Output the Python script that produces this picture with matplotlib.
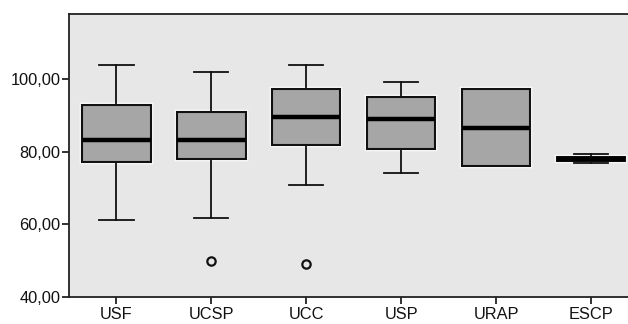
import matplotlib
matplotlib.use("Agg")
import matplotlib.pyplot as plt
import matplotlib.patheffects as pe
from matplotlib.ticker import FuncFormatter

categories = ["USF", "UCSP", "UCC", "USP", "URAP", "ESCP"]
whisker_low = [61.1, 61.8, 71.0, 74.1, 76.1, 77.0]
q1 = [77.2, 77.9, 82.0, 80.8, 76.1, 77.6]
median = [83.2, 83.2, 89.5, 89.0, 86.7, 78.1]
q3 = [92.9, 91.0, 97.2, 95.2, 97.2, 78.5]
whisker_high = [103.9, 102.1, 104.0, 99.3, 97.2, 79.3]
outliers = [[], [50.0], [49.0], [], [], []]
yticks = [40, 60, 80, 100]

plt.rcParams['font.family'] = ['Liberation Sans', 'DejaVu Sans']

fig = plt.figure(figsize=(6.28, 3.24), dpi=100)
fig.patch.set_facecolor('white')
ax = fig.add_axes([69 / 628, 27 / 324, 569.5 / 628, 283 / 324])
ax.set_facecolor('#e7e7e7')

stats = []
for i, c in enumerate(categories):
    stats.append(dict(label=c, whislo=whisker_low[i], q1=q1[i], med=median[i],
                      q3=q3[i], whishi=whisker_high[i], fliers=outliers[i]))

line_c = '#111111'
res = ax.bxp(stats, positions=range(1, len(categories) + 1), widths=0.72,
             patch_artist=True, showfliers=True,
             boxprops=dict(facecolor='#a6a6a6', edgecolor=line_c, linewidth=1.5),
             medianprops=dict(color='black', linewidth=3.2, solid_capstyle='butt'),
             whiskerprops=dict(color=line_c, linewidth=1.3),
             capprops=dict(color=line_c, linewidth=1.3),
             capwidths=0.36,
             flierprops=dict(marker='o', markerfacecolor='none', markeredgecolor=line_c,
                             markersize=6, markeredgewidth=1.6))
for b in res['boxes']:
    b.set_path_effects([pe.Stroke(linewidth=3.2, foreground='white'), pe.Normal()])

ax.set_xlim(0.5, len(categories) + 0.5)
ax.set_ylim(40, 118)
ax.set_yticks(yticks)
ax.yaxis.set_major_formatter(FuncFormatter(lambda v, p: f"{v:.2f}".replace('.', ',')))
ax.set_xticks(range(1, len(categories) + 1))
ax.set_xticklabels(categories)

for s in ['top', 'left', 'bottom', 'right']:
    ax.spines[s].set_color('#222222')
    ax.spines[s].set_linewidth(1.3)

ax.tick_params(axis='both', direction='out', length=5, width=1.3, color='#222222',
               labelsize=11.8, labelcolor='#111111')
ax.tick_params(axis='x', pad=2)
ax.tick_params(axis='y', pad=1)

fig.savefig('out.png', dpi=100)
